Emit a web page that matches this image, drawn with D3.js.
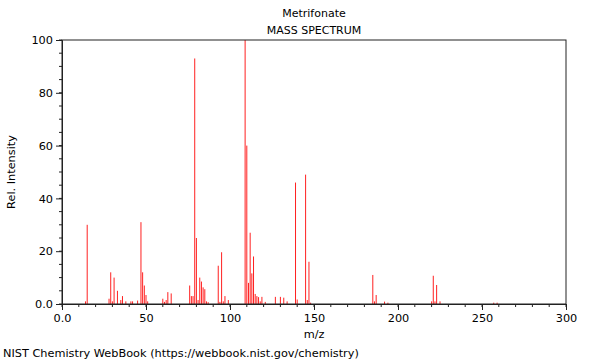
<!DOCTYPE html>
<html><head><meta charset="utf-8">
<script src="https://cdn.jsdelivr.net/npm/d3@7"></script>
<style>body{margin:0;background:#fff}svg{display:block}text{font-family:"DejaVu Sans",sans-serif;}</style>
</head><body><svg id="c" width="600" height="360"></svg>
<script>
const mz = [14,15,28,29,30,31,33,35,36,38,41,42,45,47,48,49,50,51,60,61,62,63,65,76,77,78,79,80,81,82,83,84,85,86,87,93,94,95,96,97,99,109,110,111,112,113,114,115,116,117,118,119,121,127,130,132,134,139,140,145,146,147,148,185,186,187,192,194,220,221,222,223,225,257,259];
const intensity = [1,30,2,12,1,10,5,1.5,3,1,1,1,1.3,31,12,7,3.4,1,2,0.8,1.5,4.5,4,7,3,3,93,25,1.5,10,8.5,6.3,5.6,1,0.7,14.5,0.8,19.6,1,3,1.5,100,60,8,27,11.6,18,3.8,3,2.6,1,2.7,0.8,2.7,2.7,2.4,1,46,1.7,49,1.5,16,0.5,11,1,3.4,0.9,0.5,1,10.7,1,7.2,1,0.5,0.5];
const xTicks = [0,50,100,150,200,250,300];
const yTicks = [0,20,40,60,80,100];
const title = "Metrifonate";
const subtitle = "MASS SPECTRUM";

const svg = d3.select("#c");
const L=62,R=566,T=40,B=304;
const x = d3.scaleLinear().domain([0,300]).range([L,R]);
const y = d3.scaleLinear().domain([0,100]).range([B,T]);
const fmt = d => d===0 ? "0.0" : String(d);

// bars
svg.append("g").selectAll("line").data(mz).join("line")
  .attr("x1",(d)=>x(d)).attr("x2",(d)=>x(d))
  .attr("y1",y(0)).attr("y2",(d,i)=>y(intensity[i]))
  .attr("stroke","#ff2020").attr("stroke-width",1);

// frame
svg.append("rect").attr("x",L).attr("y",T).attr("width",R-L).attr("height",B-T)
  .attr("fill","none").attr("stroke","#222").attr("stroke-width",1);

// minor ticks
const gx = svg.append("g").attr("transform",`translate(0,${B})`);
gx.selectAll("line.mn").data(d3.range(0,301,10)).join("line")
  .attr("x1",d=>x(d)).attr("x2",d=>x(d)).attr("y1",0).attr("y2",3).attr("stroke","#222");
gx.call(d3.axisBottom(x).tickValues(xTicks).tickFormat(fmt).tickSize(6).tickPadding(4))
  .call(g=>g.select(".domain").attr("stroke","#222"))
  .call(g=>g.selectAll(".tick line").attr("stroke","#222"))
  .call(g=>g.selectAll("text").attr("font-size",11.3).attr("fill","#000").attr("font-family","DejaVu Sans"));

const gy = svg.append("g").attr("transform",`translate(${L},0)`);
gy.selectAll("line.mn").data(d3.range(0,101,5)).join("line")
  .attr("y1",d=>y(d)).attr("y2",d=>y(d)).attr("x1",0).attr("x2",-3).attr("stroke","#222");
gy.call(d3.axisLeft(y).tickValues(yTicks).tickFormat(fmt).tickSize(6).tickPadding(3))
  .call(g=>g.select(".domain").attr("stroke","#222"))
  .call(g=>g.selectAll(".tick line").attr("stroke","#222"))
  .call(g=>g.selectAll("text").attr("font-size",11.3).attr("fill","#000").attr("font-family","DejaVu Sans"));

svg.append("text").attr("x",314).attr("y",17).attr("text-anchor","middle").attr("font-size",11).text(title);
svg.append("text").attr("x",314).attr("y",34).attr("text-anchor","middle").attr("font-size",11).text(subtitle);
svg.append("text").attr("x",314).attr("y",338).attr("text-anchor","middle").attr("font-size",11.3).text("m/z");
svg.append("text").attr("transform","translate(15,172) rotate(-90)").attr("text-anchor","middle").attr("font-size",11.3).text("Rel. Intensity");
svg.append("text").attr("x",3).attr("y",357).attr("font-size",11.3).text("NIST Chemistry WebBook (https://webbook.nist.gov/chemistry)");
</script></body></html>
